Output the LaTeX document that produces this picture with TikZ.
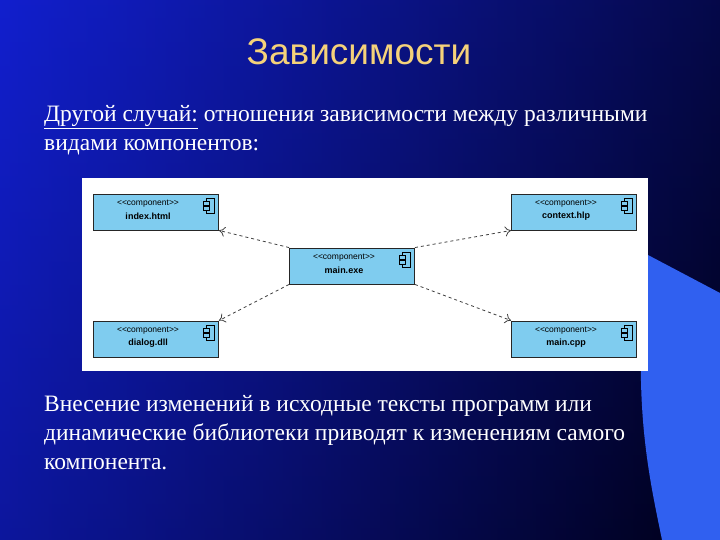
\documentclass[tikz,border=0pt]{standalone}
\usepackage{fontspec}
\setmainfont{Liberation Serif}
\newfontfamily\arialf{Liberation Sans}
\usetikzlibrary{arrows.meta}
\definecolor{bgA}{HTML}{1525F5}
\definecolor{bgB}{HTML}{000018}
\definecolor{lblue}{HTML}{3060F0}
\definecolor{titlec}{HTML}{F5D27A}
\definecolor{compc}{HTML}{7FCCEF}
\tikzset{
 comp/.style={draw=black!85,fill=compc,line width=0.9pt,minimum width=125pt,minimum height=36pt,inner sep=0pt},
 dep/.style={dashed,line width=0.8pt,draw=black!75,-{To[length=6pt,width=10pt]}},
 body/.style={text=white,font=\fontsize{23.5}{29}\selectfont,anchor=north west,align=left,inner sep=0pt}
}
\newcommand{\compicon}[1]{%
 \draw[line width=0.7pt] ([xshift=-13pt,yshift=-5pt]#1.north east) rectangle ([xshift=-5pt,yshift=-20pt]#1.north east);
 \draw[line width=0.7pt,fill=compc] ([xshift=-16pt,yshift=-8pt]#1.north east) rectangle ([xshift=-10pt,yshift=-11.5pt]#1.north east);
 \draw[line width=0.7pt,fill=compc] ([xshift=-16pt,yshift=-13pt]#1.north east) rectangle ([xshift=-10pt,yshift=-16.5pt]#1.north east);}
\newcommand{\comptext}[2]{%
 \node[font=\arialf\fontsize{8.5}{9}\selectfont] at ([xshift=-8pt,yshift=-10pt]#1.north) {<<component>>};
 \node[font=\arialf\bfseries\fontsize{9}{10}\selectfont] at ([xshift=-8pt,yshift=-23pt]#1.north) {#2};}
\begin{document}
\begin{tikzpicture}[x=1pt,y=-1pt]
\useasboundingbox (0,0) rectangle (720,540);
\shade[left color=bgA,right color=bgB,shading angle=90] (0,0) rectangle (720,540);
\shade[top color=bgA!60!black,bottom color=bgB,opacity=0.4] (0,0) rectangle (720,540);
\fill[lblue] (648,255) -- (720,293) -- (720,540) -- (662,540) .. controls (650,480) and (630,400) .. (648,255) -- cycle;
\node[font=\arialf\fontsize{37}{40}\selectfont,text=titlec] (title) at (359,52) {Зависимости};
\node[body] (t1) at (44,105) {\underline{Другой случай:} отношения зависимости между различными\\видами компонентов:};
\fill[white] (82,178) rectangle (648,371);
\node[comp] (idx) at (156,212) {};
\node[comp] (ctx) at (574,212) {};
\node[comp] (mex) at (352,266) {};
\node[comp] (dlg) at (156,339) {};
\node[comp] (mcp) at (574,339) {};
\comptext{idx}{index.html}\compicon{idx}
\comptext{ctx}{context.hlp}\compicon{ctx}
\comptext{mex}{main.exe}\compicon{mex}
\comptext{dlg}{dialog.dll}\compicon{dlg}
\comptext{mcp}{main.cpp}\compicon{mcp}
\draw[dep] (mex.north west) -- (idx.south east);
\draw[dep] (mex.north east) -- (ctx.south west);
\draw[dep] (mex.south west) -- (dlg.north east);
\draw[dep] (mex.south east) -- (mcp.north west);
\node[body] (t2) at (44,395) {Внесение изменений в исходные тексты программ или\\динамические библиотеки приводят к изменениям самого\\компонента.};
\end{tikzpicture}
\end{document}
